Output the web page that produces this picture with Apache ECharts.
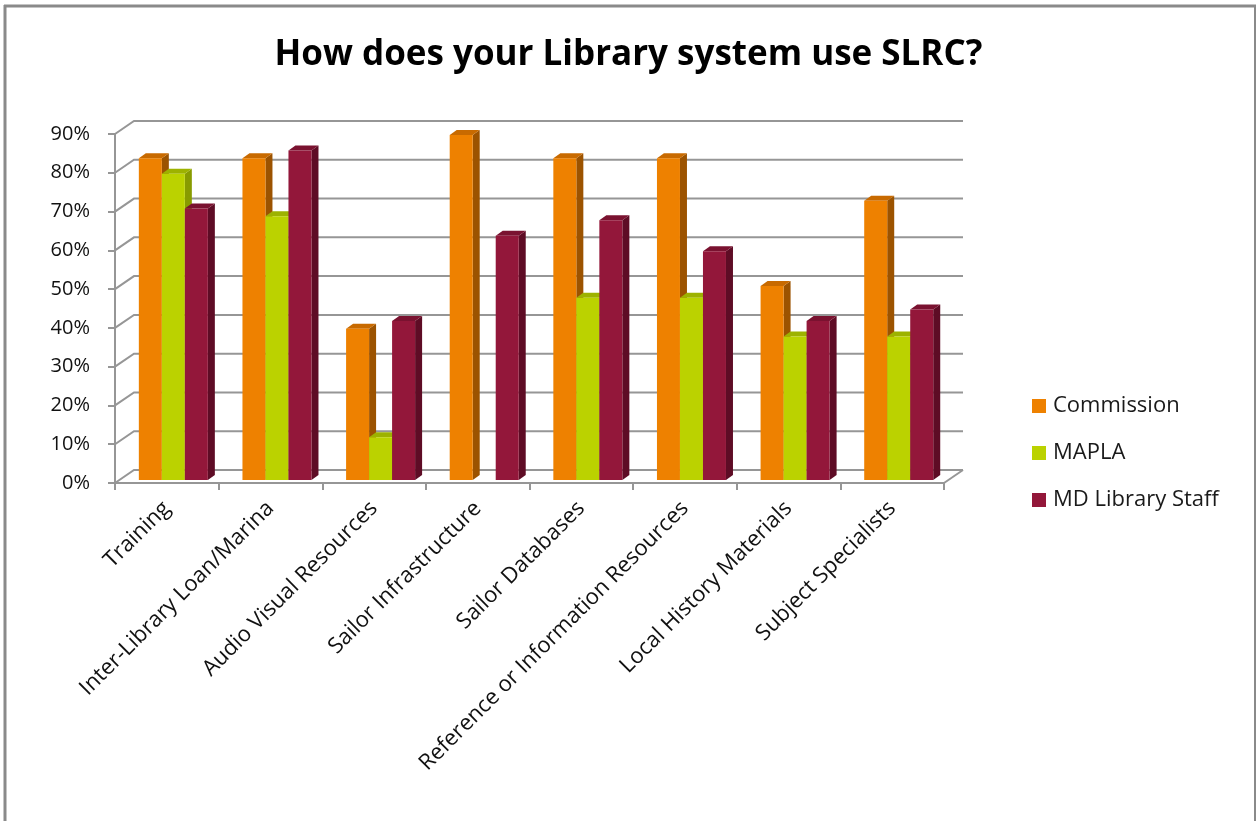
<!DOCTYPE html>
<html>
<head>
<meta charset="utf-8">
<title>How does your Library system use SLRC?</title>
<script src="https://cdn.jsdelivr.net/npm/echarts@6/dist/echarts.min.js"></script>
<style>
  html, body { margin: 0; padding: 0; background: #ffffff; }
  #chart { width: 1257px; height: 821px; }
</style>
</head>
<body>
<div id="chart"></div>
<script>
// Survey categories and share of respondents per group
const categories = [
  'Training',
  'Inter-Library Loan/Marina',
  'Audio Visual Resources',
  'Sailor Infrastructure',
  'Sailor Databases',
  'Reference or Information Resources',
  'Local History Materials',
  'Subject Specialists'
];
const seriesNames = ['Commission', 'MAPLA', 'MD Library Staff'];
const commission = [0.83, 0.83, 0.39, 0.89, 0.83, 0.83, 0.50, 0.72];
const mapla      = [0.79, 0.68, 0.11, 0.00, 0.47, 0.47, 0.37, 0.37];
const mdStaff    = [0.70, 0.85, 0.41, 0.63, 0.67, 0.59, 0.41, 0.44];
const yTicks     = [0, 0.1, 0.2, 0.3, 0.4, 0.5, 0.6, 0.7, 0.8, 0.9];

const FONT = "'Open Sans', 'Liberation Sans', sans-serif";

// Face colours for each series: front, top, side
const palette = [
  { front: '#EE8100', top: '#C86A00', side: '#9C5300' },
  { front: '#BBD200', top: '#9DB200', side: '#889B00' },
  { front: '#93173A', top: '#7A1230', side: '#5E0C25' }
];

// Depth of the back wall relative to the front plane
const WALL_DX = 19, WALL_DY = -13;
// Depth of each bar prism, and offset of its front face from the front plane
const BAR_DX = 7, BAR_DY = -5, BAR_SHIFT_Y = -3;

const chart = echarts.init(document.getElementById('chart'), null, { renderer: 'canvas' });

function wallItem(params, api) {
  const cs = params.coordSys;
  const y = api.coord([0, api.value(0)])[1];
  const x0 = cs.x, x1 = cs.x + cs.width;
  const style = { stroke: '#969696', lineWidth: 2, fill: null };
  const children = [
    { type: 'polyline', shape: { points: [[x0, y], [x0 + WALL_DX, y + WALL_DY], [x1 + WALL_DX, y + WALL_DY]] }, style: style }
  ];
  if (api.value(0) === 0) {
    children.push({ type: 'line', shape: { x1: x1, y1: y, x2: x1 + WALL_DX, y2: y + WALL_DY }, style: style });
  }
  return { type: 'group', children: children };
}

function barRenderer(idx) {
  const col = palette[idx];
  return function (params, api) {
    const cat = api.value(0), val = api.value(1);
    if (!(val > 0)) return null;
    const band = api.size([1, 0])[0];
    const base = api.coord([cat, 0]);
    const top = api.coord([cat, val]);
    const w = band * 0.222;
    const x = base[0] - band * 0.27 + idx * w;
    const yb = base[1] + BAR_SHIFT_Y;
    const yt = top[1] + BAR_SHIFT_Y;
    return {
      type: 'group',
      children: [
        { type: 'polygon', shape: { points: [[x + w, yt], [x + w + BAR_DX, yt + BAR_DY], [x + w + BAR_DX, yb + BAR_DY], [x + w, yb]] },
          style: { fill: col.side } },
        { type: 'polygon', shape: { points: [[x, yt], [x + BAR_DX, yt + BAR_DY], [x + w + BAR_DX, yt + BAR_DY], [x + w, yt]] },
          style: { fill: col.top } },
        { type: 'rect', shape: { x: x, y: yt, width: w, height: yb - yt },
          style: { fill: col.front } }
      ]
    };
  };
}

const valueSets = [commission, mapla, mdStaff];
const barSeries = seriesNames.map(function (name, idx) {
  return {
    name: name,
    type: 'custom',
    renderItem: barRenderer(idx),
    itemStyle: { color: palette[idx].front },
    encode: { x: 0, y: 1 },
    data: valueSets[idx].map(function (v, i) { return [i, v]; }),
    z: 3
  };
});

const option = {
  backgroundColor: '#ffffff',
  animation: false,
  title: {
    text: 'How does your Library system use SLRC?',
    left: 'center',
    top: 33,
    textStyle: { fontFamily: FONT, fontSize: 35, fontWeight: 'bold', color: '#000000' }
  },
  legend: {
    orient: 'vertical',
    left: 1027,
    top: 390,
    itemWidth: 14,
    itemHeight: 14,
    itemGap: 25,
    icon: 'rect',
    data: seriesNames,
    textStyle: { fontFamily: FONT, fontSize: 22, color: '#1a1a1a', padding: [0, 0, 0, 2] }
  },
  grid: { left: 115, top: 134, width: 829, height: 349 },
  xAxis: {
    type: 'category',
    data: categories,
    boundaryGap: true,
    axisLine: { show: true, lineStyle: { color: '#969696', width: 2 } },
    axisTick: { show: true, length: 7, lineStyle: { color: '#969696', width: 2 } },
    axisLabel: { rotate: 45, interval: 0, margin: 22, fontFamily: FONT, fontSize: 22, color: '#111111' },
    splitLine: { show: false }
  },
  yAxis: {
    type: 'value',
    min: 0,
    max: 0.9,
    interval: 0.1,
    axisLine: { show: true, lineStyle: { color: '#969696', width: 2 } },
    axisTick: { show: true, length: 7, lineStyle: { color: '#969696', width: 2 } },
    axisLabel: {
      margin: 25,
      fontFamily: FONT,
      fontSize: 20,
      color: '#111111',
      formatter: function (v) { return Math.round(v * 100) + '%'; }
    },
    splitLine: { show: false }
  },
  graphic: [
    { type: 'line', shape: { x1: 4, y1: 6, x2: 1256, y2: 6 }, style: { stroke: '#8a8a8a', lineWidth: 3 }, silent: true },
    { type: 'line', shape: { x1: 5, y1: 5, x2: 5, y2: 821 }, style: { stroke: '#8a8a8a', lineWidth: 3 }, silent: true },
    { type: 'line', shape: { x1: 1255, y1: 5, x2: 1255, y2: 821 }, style: { stroke: '#8a8a8a', lineWidth: 2 }, silent: true }
  ],
  series: [
    {
      name: 'walls',
      type: 'custom',
      renderItem: wallItem,
      data: yTicks.map(function (v) { return [v]; }),
      encode: { y: 0 },
      silent: true,
      z: 1
    }
  ].concat(barSeries)
};

chart.setOption(option);
</script>
</body>
</html>
